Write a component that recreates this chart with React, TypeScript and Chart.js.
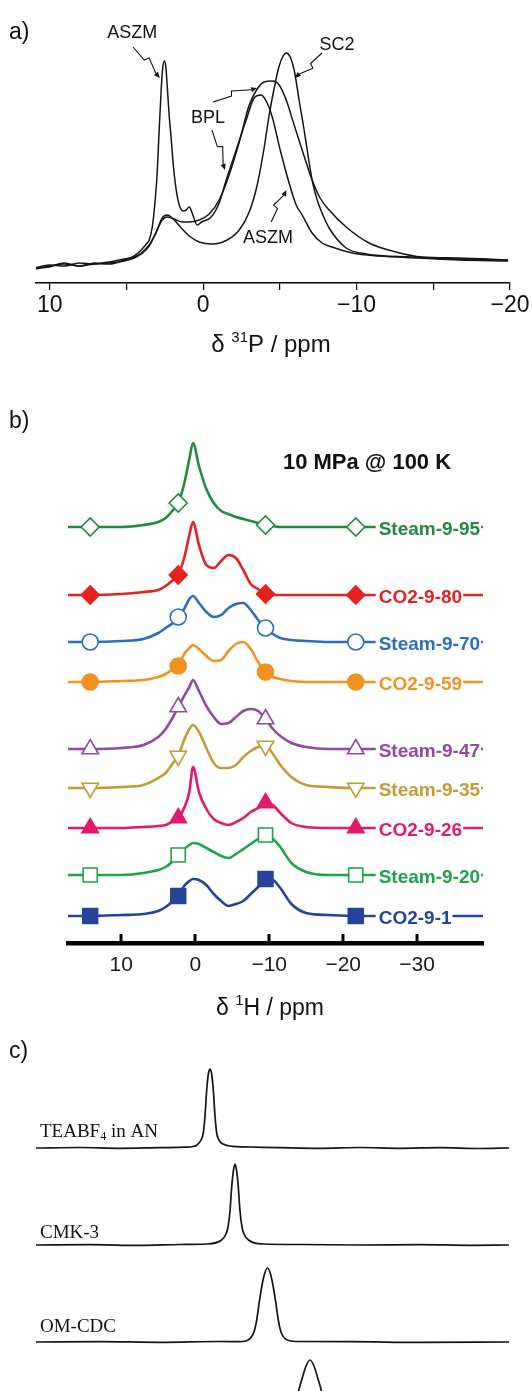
import React, { useEffect, useRef } from "react";
import { Chart, registerables } from "chart.js";

Chart.register(...registerables);

const SANS = '"Liberation Sans", Arial, Helvetica, sans-serif';
const SERIF = '"Liberation Serif", "Times New Roman", Times, serif';

/* ---------------- panel a : 31P spectra ---------------- */
const pTickValues = [10, 5, 0, -5, -10, -15, -20];

const aszmShift = [10.94, 10.03, 9.06, 8.08, 7.1, 6.12, 5.15, 4.5, 4.04, 3.71, 3.52, 3.32, 3.13, 3.0, 2.87, 2.74, 2.64, 2.54, 2.44, 2.35, 2.22, 2.08, 1.95, 1.76, 1.56, 1.3, 1.11, 0.91, 0.72, 0.39, 0.1, -0.52, -1.04, -1.5, -2.15, -2.8, -3.32, -3.78, -4.17, -4.5, -5.02, -5.6, -6.06, -6.45, -7.1, -7.75, -8.4, -9.71, -11.47, -14.07, -16.68, -19.87];
const aszmIntensity = [-4, -1, 1, -1, 2, 1, 5, 9, 15, 21, 25, 38, 65, 92, 135, 175, 197, 204, 199, 180, 150, 125, 100, 75, 60, 54, 55, 58, 52, 40, 43, 48, 62, 85, 115, 145, 167, 170, 162, 148, 115, 82, 60, 50, 32, 22, 18, 12, 9, 7, 5, 4];

const bplShift = [10.94, 10.03, 9.06, 8.08, 7.1, 6.12, 5.15, 4.5, 4.04, 3.52, 3.06, 2.67, 2.35, 1.89, 1.37, 0.91, 0.26, -0.39, -1.04, -1.69, -2.35, -3.0, -3.52, -3.97, -4.5, -4.95, -5.41, -5.93, -6.45, -7.1, -7.62, -8.21, -9.32, -10.81, -12.57, -14.27, -16.68, -19.87];
const bplIntensity = [-3, -2, 2, -1, 1, 3, 6, 8, 12, 20, 33, 45, 48, 46, 43, 43, 45, 51, 65, 90, 123, 160, 176, 183, 184, 180, 165, 140, 115, 85, 67, 55, 38, 22, 13, 8, 7, 5];

const sc2Shift = [10.94, 10.03, 9.06, 8.08, 7.1, 6.12, 5.15, 4.5, 4.04, 3.52, 3.06, 2.67, 2.35, 1.95, 1.43, 0.91, 0.26, -0.59, -1.56, -2.35, -3.0, -3.52, -3.97, -4.3, -4.63, -4.95, -5.21, -5.41, -5.67, -5.93, -6.25, -6.58, -6.78, -7.1, -7.43, -7.75, -8.21, -9.32, -10.62, -13.62, -16.68, -19.87];
const sc2Intensity = [-3, 0, -1, 2, 1, 2, 4, 7, 11, 19, 33, 47, 50, 46, 37, 29, 23, 21, 25, 35, 53, 80, 117, 150, 177, 199, 209, 212, 208, 195, 165, 135, 115, 85, 65, 52, 37, 17, 11, 8, 6, 5];

/* ---------------- panel b : 1H spectra ---------------- */
const hTickValues = [10, 0, -10, -20, -30];
const hShift = [17.2, 14.2, 10, 7, 5, 4, 3, 2.3, 1.5, 0.8, 0.3, -0.5, -1.5, -2.5, -3.5, -4.5, -5.5, -6.5, -7.5, -8.5, -9.5, -10.5, -11.5, -13, -15, -18, -21.7, -30, -38.9];
const markerShift = [14.2, 2.3, -9.5, -21.7];
const sampleNames = ["Steam-9-95", "CO2-9-80", "Steam-9-70", "CO2-9-59", "Steam-9-47", "Steam-9-35", "CO2-9-26", "Steam-9-20", "CO2-9-1"];
const sampleOffset = [416, 348, 301, 261, 194, 155, 115, 68, 27];
const steam95 = [0, 0, 0, 2, 5, 9, 17, 24, 43, 68, 84, 61, 38, 24, 16, 13, 10, 8, 6, 4, 2, 1, 0, 0, 0, 0, 0, 0, 0];
const co2_80 = [0, 0, 1, 3, 5, 9, 15, 20, 37, 60, 73, 50, 30, 27, 34, 40, 37, 25, 11, 6, 1, 0, 0, 0, 0, 0, 0, 0, 0];
const steam70 = [0, 0, 1, 3, 9, 14, 19, 25, 33, 43, 46, 39, 30, 25, 27, 34, 38, 39, 32, 22, 14, 8, 4, 2, 1, 0, 0, 0, 0];
const co2_59 = [0, 0, 1, 2, 5, 8, 13, 16, 28, 34, 37, 33, 26, 21, 22, 31, 38, 40, 33, 20, 10, 5, 3, 1, 0, 0, 0, 0, 0];
const steam47 = [0, 0, 1, 4, 12, 20, 32, 42, 53, 62, 69, 58, 43, 32, 25, 26, 32, 38, 40, 38, 30, 20, 13, 6, 2, 0, 0, 0, 0];
const steam35 = [0, 0, 1, 3, 10, 15, 25, 32, 48, 59, 63, 56, 40, 25, 20, 20, 23, 31, 37, 41, 42, 34, 23, 11, 3, 1, 0, 0, 0];
const co2_26 = [0, 0, 0, 1, 2, 3, 7, 10, 20, 36, 61, 36, 19, 9, 5, 3, 6, 10, 16, 20, 25, 23, 15, 5, 1, 0, 0, 0, 0];
const steam20 = [0, 0, 0, 2, 5, 8, 14, 20, 26, 30, 32, 31, 27, 23, 19, 17, 21, 26, 31, 36, 40, 36, 28, 12, 3, 0, 0, 0, 0];
const co2_1 = [0, 0, 1, 2, 5, 9, 15, 20, 30, 35, 37, 36, 31, 22, 15, 10, 12, 15, 22, 29, 37, 36, 28, 12, 3, 1, 0, 0, 0];
const sampleHeights = [steam95, co2_80, steam70, co2_59, steam47, steam35, co2_26, steam20, co2_1];

/* ---------------- panel c : 19F/1H spectra ---------------- */
const teaShift = [0, 44, 84, 124, 149, 157, 161, 165, 167.3, 169, 170.7, 172.5, 174, 175.5, 177.3, 179, 180.7, 183, 187, 197, 214, 244, 284, 324, 364, 404, 444, 473];
const teaIntensity = [0, 0.5, -0.3, 0.4, 0.8, 1.5, 3, 8, 15, 32, 58, 75, 79, 75, 58, 32, 15, 8, 4, 1.6, 1, 0.3, -0.4, 0.5, -0.3, 0.4, -0.5, 0];
const cmkShift = [0, 54, 104, 144, 171, 185.5, 190, 192, 194, 195.7, 197.5, 199, 200.5, 202.3, 204, 206, 208, 212.5, 227, 264, 324, 384, 434, 473];
const cmkIntensity = [0, 0.3, -0.4, 0.5, 1, 5, 11, 18, 34, 58, 75, 81, 75, 58, 34, 18, 11, 5, 1, 0.5, 0, 0.4, -0.3, 0];
const omShift = [0, 64, 124, 184, 204, 214, 218, 220.7, 223, 225.7, 228.5, 231.5, 234.5, 237.3, 240, 242.3, 245, 249, 260, 314, 384, 473];
const omIntensity = [0, 0.4, -0.3, 0.5, 0.3, 3.4, 10, 22, 38, 55, 68, 74, 68, 55, 38, 22, 10, 3.4, 0.5, 0.3, -0.4, 0];
const fourthShift = [0, 114, 214, 234, 246, 253, 258, 262.5, 266, 270, 274, 278, 282, 285.5, 290, 295, 302, 314, 384, 473];
const fourthIntensity = [0, 0.3, 0.5, 1, 4, 12, 28, 48, 60, 73, 79, 73, 60, 48, 28, 12, 4, 1, 0.3, 0];
const cOffset = [291, 194, 97, 0];

/* ---------------- helpers ---------------- */
const fmt = (v: number) => (v < 0 ? "\u2212" + Math.abs(v) : String(v));
const pts = (xs: number[], ys: number[], off = 0) => xs.map((x, i) => ({ x, y: ys[i] + off }));

type Part = [string, "n" | "sup" | "sub"];
function drawRich(ctx: CanvasRenderingContext2D, parts: Part[], x: number, baseline: number, size: number, family: string, align: "left" | "center", smallSize?: number) {
  const small = smallSize || Math.round(size * 0.65);
  const fontOf = (k: string) => `${k === "n" ? size : small}px ${family}`;
  let total = 0;
  const ws = parts.map(([t, k]) => {
    ctx.font = fontOf(k);
    const w = ctx.measureText(t).width;
    total += w;
    return w;
  });
  let cx = align === "center" ? x - total / 2 : x;
  ctx.textAlign = "left";
  ctx.textBaseline = "alphabetic";
  parts.forEach(([t, k], i) => {
    ctx.font = fontOf(k);
    const dy = k === "sup" ? -size * 0.42 : k === "sub" ? size * 0.2 : 0;
    ctx.fillText(t, cx, baseline + dy);
    cx += ws[i];
  });
}

function bolt(ctx: CanvasRenderingContext2D, x0: number, y0: number, x1: number, y1: number) {
  const dx = x1 - x0, dy = y1 - y0;
  const L = Math.hypot(dx, dy);
  const ux = dx / L, uy = dy / L;
  const nx = uy, ny = -ux;
  const ax = x0 + ux * L * 0.42, ay = y0 + uy * L * 0.42;
  const bx = ax + nx * 5 + ux * 1.5, by = ay + ny * 5 + uy * 1.5;
  const hx = x1 - ux * 6, hy = y1 - uy * 6;
  ctx.beginPath();
  ctx.moveTo(x0, y0);
  ctx.lineTo(ax, ay);
  ctx.lineTo(bx, by);
  ctx.lineTo(hx, hy);
  ctx.stroke();
  ctx.beginPath();
  ctx.moveTo(x1, y1);
  ctx.lineTo(hx + nx * 2.6, hy + ny * 2.6);
  ctx.lineTo(hx - nx * 2.6, hy - ny * 2.6);
  ctx.closePath();
  ctx.fill();
}

const aArrows = [
  { from: [4.58, 218], to: [2.82, 187] },
  { from: [-7.74, 212], to: [-5.98, 187] },
  { from: [-0.64, 163], to: [-3.51, 177] },
  { from: [-0.57, 135], to: [-1.42, 95] },
  { from: [-4.43, 43], to: [-5.42, 75] },
];
const aLabels = [
  { text: "ASZM", at: [4.63, 232] },
  { text: "SC2", at: [-8.72, 220] },
  { text: "BPL", at: [-0.31, 147] },
  { text: "ASZM", at: [-4.22, 27] },
];

const bStyles = [
  { color: "#218a3e", style: "rectRot", filled: false, r: 9, rot: 0 },
  { color: "#e5221f", style: "rectRot", filled: true, r: 9, rot: 0 },
  { color: "#2c6dbf", style: "circle", filled: false, r: 8, rot: 0 },
  { color: "#f39121", style: "circle", filled: true, r: 8, rot: 0 },
  { color: "#8f4aa3", style: "triangle", filled: false, r: 9.5, rot: 0 },
  { color: "#c49b35", style: "triangle", filled: false, r: 9.5, rot: 180 },
  { color: "#e6186c", style: "triangle", filled: true, r: 9.5, rot: 0 },
  { color: "#1fa24b", style: "rect", filled: false, r: 10, rot: 0 },
  { color: "#25439a", style: "rect", filled: true, r: 10.5, rot: 0 },
];

/* ---------------- configs ---------------- */
function configA(): any {
  const series = [
    [aszmShift, aszmIntensity],
    [bplShift, bplIntensity],
    [sc2Shift, sc2Intensity],
  ];
  return {
    type: "line",
    data: {
      datasets: series.map(([xs, ys]) => ({
        data: pts(xs, ys),
        borderColor: "#151515",
        borderWidth: 1.5,
        pointRadius: 0,
        cubicInterpolationMode: "monotone",
        fill: false,
      })),
    },
    options: {
      animation: false,
      responsive: false,
      devicePixelRatio: 1,
      events: [],
      layout: { padding: { left: 36, right: 22, top: 30, bottom: 0 } },
      plugins: { legend: { display: false }, tooltip: { enabled: false } },
      scales: {
        x: {
          type: "linear",
          reverse: true,
          min: -20,
          max: 10.9,
          afterBuildTicks: (s: any) => {
            s.ticks = pTickValues.map((v) => ({ value: v }));
          },
          afterFit: (s: any) => {
            s.height = 87;
          },
          grid: { display: true, drawOnChartArea: false, drawTicks: true, tickLength: 7, color: "#000", lineWidth: 1.2 },
          border: { display: true, color: "#000", width: 1.5 },
          ticks: {
            autoSkip: false,
            maxRotation: 0,
            padding: 2,
            color: "#111",
            font: { family: SANS, size: 23 },
            callback: (v: number) => (v % 10 === 0 ? fmt(v) : ""),
          },
        },
        y: { display: false, min: -18, max: 235 },
      },
    },
    plugins: [
      {
        id: "aDeco",
        afterDraw(chart: any) {
          const { ctx, scales } = chart;
          const X = (v: number) => scales.x.getPixelForValue(v);
          const Y = (v: number) => scales.y.getPixelForValue(v);
          ctx.save();
          ctx.fillStyle = "#111";
          ctx.strokeStyle = "#111";
          ctx.lineWidth = 1.1;
          ctx.font = `23px ${SANS}`;
          ctx.textAlign = "left";
          ctx.textBaseline = "middle";
          ctx.fillText("a)", 9, 33);
          ctx.font = `18px ${SANS}`;
          ctx.textAlign = "center";
          aLabels.forEach((l) => ctx.fillText(l.text, X(l.at[0]), Y(l.at[1])));
          aArrows.forEach((a) => bolt(ctx, X(a.from[0]), Y(a.from[1]), X(a.to[0]), Y(a.to[1])));
          drawRich(ctx, [["\u03b4 ", "n"], ["31", "sup"], ["P / ppm", "n"]], 271, 352, 24, SANS, "center", 15);
          ctx.restore();
        },
      },
    ],
  };
}

function configB(): any {
  return {
    type: "line",
    data: {
      datasets: sampleHeights.map((h, i) => {
        const st = bStyles[i];
        return {
          data: pts(hShift, h, sampleOffset[i]),
          borderColor: st.color,
          borderWidth: 2.6,
          cubicInterpolationMode: "monotone",
          fill: false,
          pointStyle: st.style,
          pointRotation: st.rot,
          pointRadius: (c: any) => (c.raw && markerShift.includes(c.raw.x) ? st.r : 0),
          pointBorderColor: st.color,
          pointBackgroundColor: st.filled ? st.color : "#ffffff",
          pointBorderWidth: 1.6,
        };
      }),
    },
    options: {
      animation: false,
      responsive: false,
      devicePixelRatio: 1,
      events: [],
      layout: { padding: { left: 68, right: 49, top: 30, bottom: 0 } },
      plugins: { legend: { display: false }, tooltip: { enabled: false } },
      scales: {
        x: {
          type: "linear",
          reverse: true,
          min: -38.9,
          max: 17.2,
          afterBuildTicks: (s: any) => {
            s.ticks = hTickValues.map((v) => ({ value: v }));
          },
          afterFit: (s: any) => {
            s.height = 82;
          },
          grid: { display: true, drawOnChartArea: false, drawTicks: false },
          border: { display: true, color: "#000", width: 4.5 },
          ticks: {
            autoSkip: false,
            maxRotation: 0,
            padding: 10,
            color: "#1a1a1a",
            font: { family: SANS, size: 21 },
            callback: (v: number) => fmt(v),
          },
        },
        y: { display: false, min: 0, max: 543 },
      },
    },
    plugins: [
      {
        id: "bDeco",
        afterDraw(chart: any) {
          const { ctx, scales, chartArea } = chart;
          const X = (v: number) => scales.x.getPixelForValue(v);
          const Y = (v: number) => scales.y.getPixelForValue(v);
          ctx.save();
          ctx.strokeStyle = "#000";
          ctx.lineWidth = 3;
          hTickValues.forEach((v) => {
            const px = Math.round(X(v));
            ctx.beginPath();
            ctx.moveTo(px, chartArea.bottom);
            ctx.lineTo(px, chartArea.bottom - 9);
            ctx.stroke();
          });
          ctx.font = `bold 19px ${SANS}`;
          ctx.textAlign = "left";
          ctx.textBaseline = "alphabetic";
          sampleNames.forEach((name, i) => {
            const lx = X(-24.8);
            const ly = Y(sampleOffset[i]);
            const w = ctx.measureText(name).width;
            ctx.fillStyle = "#fff";
            ctx.fillRect(lx - 3, ly - 10, w + 4, 20);
            ctx.fillStyle = bStyles[i].color;
            ctx.fillText(name, lx, ly + 7.5);
          });
          ctx.fillStyle = "#111";
          ctx.font = `bold 22px ${SANS}`;
          ctx.textBaseline = "middle";
          ctx.fillText("10 MPa @ 100 K", X(-11.85), Y(480));
          ctx.font = `23px ${SANS}`;
          ctx.fillText("b)", 9, 52);
          drawRich(ctx, [["\u03b4 ", "n"], ["1", "sup"], ["H / ppm", "n"]], 270, 645, 23, SANS, "center", 15);
          ctx.restore();
        },
      },
    ],
  };
}

function configC(): any {
  const series = [
    [teaShift, teaIntensity],
    [cmkShift, cmkIntensity],
    [omShift, omIntensity],
    [fourthShift, fourthIntensity],
  ];
  return {
    type: "line",
    data: {
      datasets: series.map(([xs, ys], i) => ({
        data: pts(xs, ys, cOffset[i]),
        borderColor: "#151515",
        borderWidth: 1.7,
        pointRadius: 0,
        cubicInterpolationMode: "monotone",
        fill: false,
      })),
    },
    options: {
      animation: false,
      responsive: false,
      devicePixelRatio: 1,
      events: [],
      layout: { padding: { left: 36, right: 23, top: 25, bottom: 0 } },
      plugins: { legend: { display: false }, tooltip: { enabled: false } },
      scales: {
        x: { type: "linear", display: false, min: 0, max: 473 },
        y: { display: false, min: 48, max: 389 },
      },
    },
    plugins: [
      {
        id: "cDeco",
        afterDraw(chart: any) {
          const { ctx } = chart;
          ctx.save();
          ctx.fillStyle = "#111";
          ctx.font = `23px ${SANS}`;
          ctx.textAlign = "left";
          ctx.textBaseline = "middle";
          ctx.fillText("c)", 9, 27);
          drawRich(ctx, [["TEABF", "n"], ["4", "sub"], [" in AN", "n"]], 40, 111.5, 19, SERIF, "left", 12);
          drawRich(ctx, [["CMK-3", "n"]], 40, 213, 19, SERIF, "left");
          drawRich(ctx, [["OM-CDC", "n"]], 40, 306.5, 19, SERIF, "left");
          ctx.restore();
        },
      },
    ],
  };
}

export default function App() {
  const refA = useRef<HTMLCanvasElement>(null);
  const refB = useRef<HTMLCanvasElement>(null);
  const refC = useRef<HTMLCanvasElement>(null);

  useEffect(() => {
    const charts = [
      new Chart(refA.current as HTMLCanvasElement, configA()),
      new Chart(refB.current as HTMLCanvasElement, configB()),
      new Chart(refC.current as HTMLCanvasElement, configC()),
    ];
    return () => charts.forEach((c) => c.destroy());
  }, []);

  const cv = (top: number, h: number) => ({ position: "absolute" as const, left: 0, top, width: 532, height: h, display: "block" });

  return (
    <div style={{ position: "absolute", left: 0, top: 0, width: 532, height: 1391, background: "#fff", overflow: "hidden" }}>
      <canvas ref={refA} width={532} height={370} style={cv(0, 370)} />
      <canvas ref={refB} width={532} height={655} style={cv(370, 655)} />
      <canvas ref={refC} width={532} height={366} style={cv(1025, 366)} />
    </div>
  );
}
